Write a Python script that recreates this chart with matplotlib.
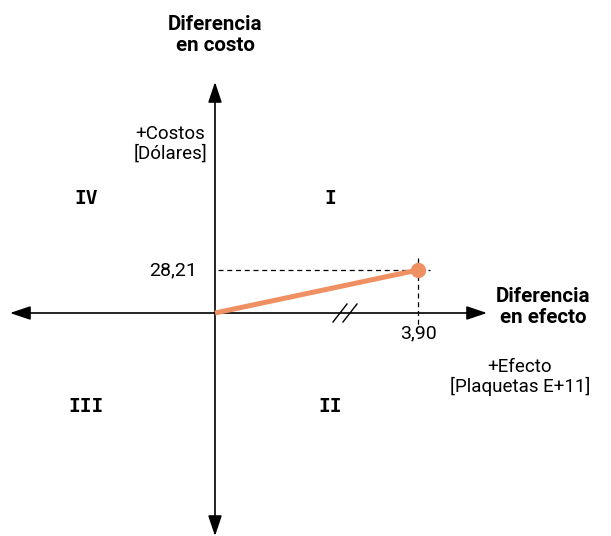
import matplotlib.pyplot as plt

plt.rcParams['font.family'] = ['Roboto', 'DejaVu Sans']

# Data
delta_effect = 3.90
delta_cost = 28.21
effect_label = "3,90"
cost_label = "28,21"
quadrants = ["I", "II", "III", "IV"]

# scale: pixels per data unit
sx = 203 / 3.90
sy = 43 / 28.21
ox, oy = 215, 313
W, H = 611, 536


def px(x):
    return (x - ox) / sx


def py(y):
    return (oy - y) / sy


fig = plt.figure(figsize=(6.11, 5.36), dpi=100)
ax = fig.add_axes([0, 0, 1, 1])
ax.set_xlim(px(0), px(W))
ax.set_ylim(py(H), py(0))
ax.axis('off')

arrow = dict(arrowstyle='-|>,head_length=1.25,head_width=0.42', color='black', lw=1.2,
             mutation_scale=10, shrinkA=0, shrinkB=0)
# horizontal axis (both directions)
ax.annotate('', xy=(px(487), 0), xytext=(0, 0), arrowprops=arrow, annotation_clip=False)
ax.annotate('', xy=(px(10), 0), xytext=(0, 0), arrowprops=arrow, annotation_clip=False)
# vertical axis
ax.annotate('', xy=(0, py(82)), xytext=(0, 0), arrowprops=arrow, annotation_clip=False)
ax.annotate('', xy=(0, py(536)), xytext=(0, 0), arrowprops=arrow, annotation_clip=False)

# break marks on x axis
for bx in (340, 350):
    ax.plot([px(bx - 7), px(bx + 7)], [py(322), py(304)], color='black', lw=1)

# dashed guides
ax.plot([px(218), px(430)], [delta_cost, delta_cost], ls=(0, (4, 3)), color='black', lw=0.9)
ax.plot([delta_effect, delta_effect], [py(258), py(326)], ls=(0, (4, 3)), color='black', lw=0.9)

# ICER line
ax.plot([0, delta_effect], [0, delta_cost], color='#EE9062', lw=3.6, solid_capstyle='butt', zorder=3)
ax.plot([delta_effect], [delta_cost], 'o', color='#EE9062', ms=10, zorder=4)

ax.text(px(197), delta_cost, cost_label, ha='right', va='center', fontsize=14)
ax.text(delta_effect, py(333), effect_label, ha='center', va='center', fontsize=14)

# quadrant labels
qpos = {"I": (330, 198), "II": (330, 406), "III": (86, 406), "IV": (86, 198)}
for q in quadrants:
    x, y = qpos[q]
    ax.text(px(x), py(y), q, ha='center', va='center', fontsize=14, fontweight='bold',
            family='DejaVu Sans Mono')

ax.text(0, py(35), "Diferencia\nen costo", ha='center', va='center', fontsize=14.8,
        fontweight='bold', linespacing=1.12)
ax.text(px(543), py(307), "Diferencia\nen efecto", ha='center', va='center', fontsize=14.8,
        fontweight='bold', linespacing=1.12)
ax.text(px(170), py(144), "+Costos\n[Dólares]", ha='center', va='center', fontsize=13.5,
        linespacing=1.12)
ax.text(px(520), py(377), "+Efecto\n[Plaquetas E+11]", ha='center', va='center', fontsize=13.5,
        linespacing=1.12)

fig.savefig('out.png', dpi=100)
